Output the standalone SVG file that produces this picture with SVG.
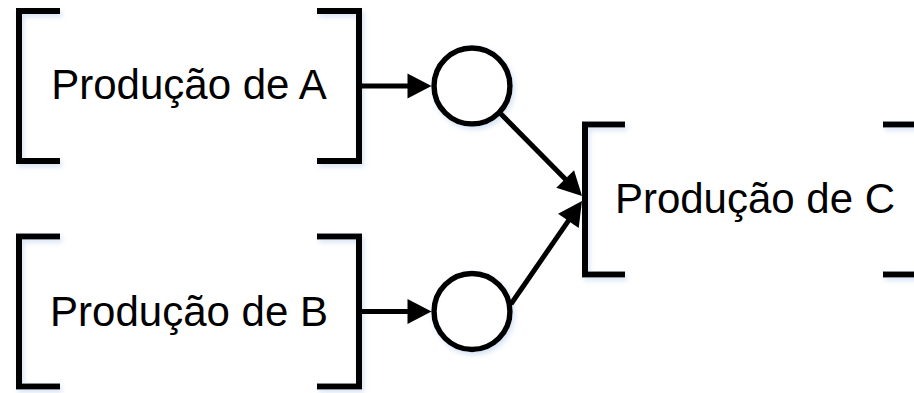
<svg xmlns="http://www.w3.org/2000/svg" width="914" height="393" viewBox="0 0 914 393">
  <style>
    .bracket { fill: none; stroke: #000; stroke-width: 6; stroke-linejoin: miter; stroke-linecap: butt; }
    .place { fill: #fff; stroke: #000; stroke-width: 5.5; }
    .label { font-family: "Liberation Sans", Arial, sans-serif; font-size: 42px; fill: #000; text-anchor: middle; }
    .arc { fill: none; stroke: #000; stroke-width: 5; marker-end: url(#arrow); }
  </style>
  <defs>
    <filter id="shadow" x="-10%" y="-10%" width="130%" height="130%">
      <feDropShadow dx="2" dy="3" stdDeviation="2.5" flood-color="#8fb0e0" flood-opacity="0.35"/>
    </filter>
    <marker id="arrow" markerUnits="userSpaceOnUse" markerWidth="24" markerHeight="25" refX="12" refY="12.5" orient="auto" overflow="visible">
      <path d="M0,0 L24,12.5 L0,25 Z" fill="#000"/>
    </marker>
  </defs>
  <rect width="914" height="393" fill="#fff"/>

  <!-- transitions (bracket boxes) -->
  <g id="producao-a">
    <g filter="url(#shadow)">
      <polyline class="bracket" points="60,11 19,11 19,161 60,161"/>
      <polyline class="bracket" points="317,11 359,11 359,161 317,161"/>
    </g>
    <text class="label" x="189" y="99">Produção de A</text>
  </g>
  <g id="producao-b">
    <g filter="url(#shadow)">
      <polyline class="bracket" points="60,236.5 19,236.5 19,386.5 60,386.5"/>
      <polyline class="bracket" points="317,236.5 359,236.5 359,386.5 317,386.5"/>
    </g>
    <text class="label" x="189" y="326">Produção de B</text>
  </g>
  <g id="producao-c">
    <g filter="url(#shadow)">
      <polyline class="bracket" points="625,124.5 585,124.5 585,274.5 625,274.5"/>
      <polyline class="bracket" points="883,124.5 925.5,124.5 925.5,274.5 883,274.5"/>
    </g>
    <text class="label" x="755" y="212.5">Produção de C</text>
  </g>

  <!-- places -->
  <g id="lugar-a" filter="url(#shadow)">
    <circle class="place" cx="472" cy="86" r="38"/>
  </g>
  <g id="lugar-b" filter="url(#shadow)">
    <circle class="place" cx="472" cy="311.5" r="38"/>
  </g>

  <!-- arcs -->
  <g id="connectors">
    <line class="arc" x1="362" y1="86" x2="419.5" y2="86"/>
    <line class="arc" x1="362" y1="311.5" x2="419.5" y2="311.5"/>
    <line class="arc" x1="499" y1="112" x2="573.6" y2="187.5"/>
    <line class="arc" x1="511" y1="304" x2="575.2" y2="210.9"/>
  </g>
</svg>
